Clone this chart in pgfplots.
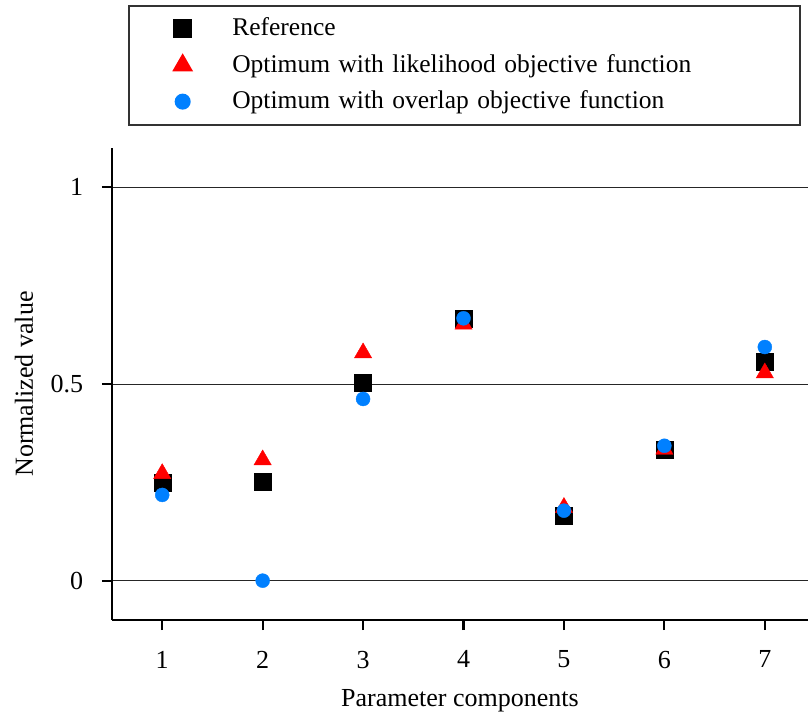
\documentclass[border=0pt]{standalone}
\usepackage{fontspec}
\setmainfont{Liberation Serif}
\usepackage{pgfplots}
\pgfplotsset{compat=1.18}
\definecolor{optblue}{RGB}{0,128,255}

\begin{document}
\fontsize{26pt}{31pt}\selectfont
\begin{tikzpicture}
  \begin{axis}[
      scale only axis,
      width=696pt, height=472pt,
      xmin=0.5, xmax=7.43,
      ymin=-0.1, ymax=1.1,
      axis x line*=bottom, axis y line*=left,
      axis line style={line width=2.2pt},
      xtick={1,...,7},
      ytick={0,0.5,1},
      yticklabels={0,0.5,1},
      tick align=outside,
      major tick length=10pt,
      tick style={line width=2.2pt, black},
      ymajorgrids=true,
      grid style={line width=0.9pt, black!85},
      /pgf/number format/assume math mode=true,
      ticklabel style={font=\fontsize{26pt}{31pt}\selectfont},
      xticklabel style={yshift=-12pt},
      yticklabel style={xshift=-10pt},
      xlabel={Parameter components},
      ylabel={Normalized value},
      label style={font=\fontsize{26pt}{31pt}\selectfont},
      xlabel style={yshift=-4pt},
      ylabel style={yshift=0pt},
      legend style={
        at={(0.023,1.303)}, anchor=north west,
        draw=black!80, line width=2pt,
        font=\fontsize{25.5pt}{30pt}\selectfont,
        nodes={text width=520pt, align=left, inner sep=3pt},
        row sep=8.5pt, inner xsep=45pt, inner ysep=9pt,
        /tikz/every odd column/.append style={column sep=38pt},
      },
      legend cell align=left,
    ]
    \addplot[only marks, mark=square*, mark size=8.5pt, black] coordinates {
      (1,0.249) (2,0.251) (3,0.503) (4,0.667) (5,0.165) (6,0.332) (7,0.556)
    };
    \addlegendentry{Reference}
    \addplot[only marks, mark=triangle*, mark size=10pt, red] coordinates {
      (1,0.272) (2,0.307) (3,0.579) (4,0.652) (5,0.186) (6,0.334) (7,0.528)
    };
    \addlegendentry{Optimum with likelihood objective function}
    \addplot[only marks, mark=*, mark size=7pt, optblue] coordinates {
      (1,0.218) (2,0.0) (3,0.462) (4,0.667) (5,0.178) (6,0.343) (7,0.594)
    };
    \addlegendentry{Optimum with overlap objective function}
  \end{axis}
  \pgfresetboundingbox
  \path[use as bounding box] (-112pt,-98pt) rectangle (696pt,620pt);
\end{tikzpicture}
\end{document}
